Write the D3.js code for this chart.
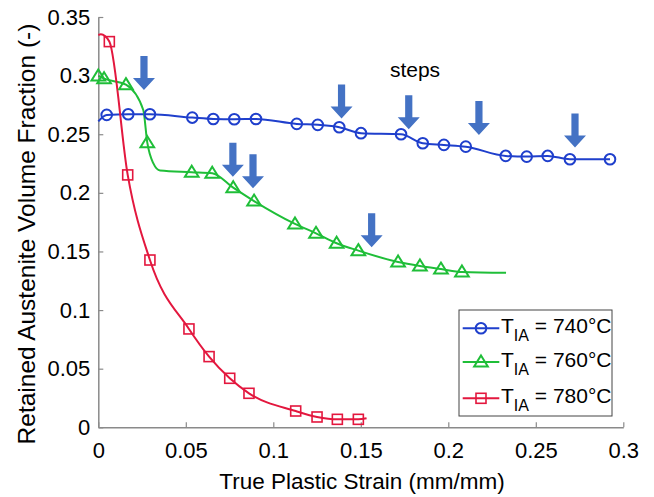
<!DOCTYPE html>
<html>
<head>
<meta charset="utf-8">
<script src="https://cdn.jsdelivr.net/npm/d3@7"></script>
<style>
  html, body { margin: 0; padding: 0; background: #fff; }
  svg { display: block; }
  text { font-family: "Liberation Sans", Arial, sans-serif; fill: #000; }
</style>
</head>
<body>
<svg id="chart" width="654" height="497"></svg>
<script>
// ---- data ----
const xTicks = [0, 0.05, 0.1, 0.15, 0.2, 0.25, 0.3];
const xTickLabels = ["0", "0.05", "0.1", "0.15", "0.2", "0.25", "0.3"];
const yTicks = [0, 0.05, 0.1, 0.15, 0.2, 0.25, 0.3, 0.35];
const yTickLabels = ["0", "0.05", "0.1", "0.15", "0.2", "0.25", "0.3", "0.35"];

const seriesNames = ["740", "760", "780"];

// T_IA = 740°C (markers)
const strain740 = [0.0048, 0.0171, 0.0295, 0.0537, 0.0657, 0.0777, 0.0901, 0.1134, 0.1254, 0.1377, 0.1501, 0.173, 0.1854, 0.1975, 0.21, 0.2328, 0.2448, 0.2568, 0.2695, 0.2924];
const ra740     = [0.2665, 0.267, 0.267, 0.2642, 0.263, 0.2628, 0.263, 0.2588, 0.258, 0.256, 0.2509, 0.25, 0.2423, 0.2409, 0.2394, 0.2315, 0.2309, 0.2315, 0.2287, 0.2287];
// T_IA = 740°C (line)
const lineStrain740 = [0, 0.0048, 0.0171, 0.0295, 0.0537, 0.0657, 0.0777, 0.0901, 0.1134, 0.1254, 0.1377, 0.1501, 0.173, 0.1854, 0.1975, 0.21, 0.2328, 0.2448, 0.2568, 0.2695, 0.2924];
const lineRa740     = [0.261, 0.2665, 0.267, 0.267, 0.2642, 0.263, 0.2628, 0.263, 0.2588, 0.258, 0.256, 0.2509, 0.25, 0.2423, 0.2409, 0.2394, 0.2315, 0.2309, 0.2315, 0.2287, 0.2287];

// T_IA = 760°C (markers)
const strain760 = [0.0, 0.0033, 0.0158, 0.028, 0.0534, 0.0651, 0.0771, 0.089, 0.1124, 0.1244, 0.1362, 0.1486, 0.1713, 0.1838, 0.1958, 0.2078];
const ra760     = [0.2997, 0.2974, 0.2923, 0.2428, 0.2176, 0.2167, 0.2044, 0.193, 0.1735, 0.1655, 0.157, 0.1507, 0.141, 0.1376, 0.135, 0.1325];
// T_IA = 760°C (line)
const lineStrain760 = [0.0, 0.0033, 0.0158, 0.0257, 0.028, 0.0314, 0.0353, 0.0534, 0.0651, 0.0771, 0.089, 0.1124, 0.1244, 0.1362, 0.1486, 0.1713, 0.1838, 0.1958, 0.2078, 0.233];
const lineRa760     = [0.2997, 0.2974, 0.2923, 0.2707, 0.2428, 0.2253, 0.219, 0.2176, 0.2167, 0.2044, 0.193, 0.1735, 0.1655, 0.157, 0.1507, 0.141, 0.1376, 0.135, 0.1325, 0.1318];

// T_IA = 780°C (markers)
const strain780 = [0.0063, 0.0168, 0.0295, 0.0518, 0.0633, 0.0751, 0.0861, 0.1128, 0.125, 0.1366, 0.1486];
const ra780     = [0.329, 0.2153, 0.1427, 0.0839, 0.0603, 0.0418, 0.029, 0.0139, 0.0088, 0.0068, 0.0068];
// T_IA = 780°C (line)
const lineStrain780 = [0, 0.0015, 0.0063, 0.0168, 0.0295, 0.0518, 0.0633, 0.0751, 0.0861, 0.1128, 0.125, 0.1366, 0.1486, 0.1533];
const lineRa780     = [0.3347, 0.3352, 0.329, 0.2153, 0.1427, 0.0839, 0.0603, 0.0418, 0.029, 0.0139, 0.0088, 0.0068, 0.0068, 0.0077];

// "steps" arrows: tip positions in data units
const arrowTipX = [0.0261, 0.139, 0.1774, 0.2175, 0.2724, 0.0769, 0.0884, 0.1562];
const arrowTipY = [0.2878, 0.2635, 0.2543, 0.2494, 0.2386, 0.2138, 0.2039, 0.1536];

// ---- drawing ----
const svg = d3.select("#chart");
const plotLeft = 98.3, plotRight = 623.3, plotTop = 17, plotBottom = 427.3;

const x = d3.scaleLinear().domain([0, 0.3]).range([plotLeft, plotRight]);
const y = d3.scaleLinear().domain([0, 0.35]).range([plotBottom, plotTop]);

const colors = { "740": "#1f3fcc", "760": "#1fbe38", "780": "#e3173e" };
const axisColor = "#8a8a8a";

// axes
const gx = svg.append("g").attr("transform", `translate(0,${plotBottom})`)
  .call(d3.axisBottom(x).tickValues(xTicks).tickFormat((d, i) => xTickLabels[i])
    .tickSizeInner(-5).tickSizeOuter(0).tickPadding(15));
const gy = svg.append("g").attr("transform", `translate(${plotLeft},0)`)
  .call(d3.axisLeft(y).tickValues(yTicks).tickFormat((d, i) => yTickLabels[i])
    .tickSizeInner(-5).tickSizeOuter(0).tickPadding(8));
[gx, gy].forEach(g => {
  g.select(".domain").attr("stroke", axisColor).attr("stroke-width", 1.5);
  g.selectAll(".tick line").attr("stroke", axisColor).attr("stroke-width", 1.2);
  g.selectAll(".tick text").attr("font-size", 22).attr("font-family", "Liberation Sans, Arial, sans-serif").attr("fill", "#000");
});

// axis titles
svg.append("text").attr("x", 362).attr("y", 489).attr("text-anchor", "middle")
  .attr("font-size", 22.5).text("True Plastic Strain (mm/mm)");
svg.append("text").attr("transform", `translate(35,234) rotate(-90)`).attr("text-anchor", "middle")
  .attr("font-size", 24.5).text("Retained Austenite Volume Fraction (-)");

const lineGen = d3.line().x(d => x(d[0])).y(d => y(d[1])).curve(d3.curveMonotoneX);

const lines = {
  "740": d3.zip(lineStrain740, lineRa740),
  "760": d3.zip(lineStrain760, lineRa760),
  "780": d3.zip(lineStrain780, lineRa780)
};
const markers = {
  "740": d3.zip(strain740, ra740),
  "760": d3.zip(strain760, ra760),
  "780": d3.zip(strain780, ra780)
};

function drawMarker(g, name, cx, cy) {
  const c = colors[name];
  if (name === "740") {
    g.append("circle").attr("cx", cx).attr("cy", cy).attr("r", 5.3)
      .attr("fill", "none").attr("stroke", c).attr("stroke-width", 2);
  } else if (name === "760") {
    const s = 6.5;
    g.append("path").attr("d", `M${cx},${cy - s}L${cx + s * 1.05},${cy + s * 0.7}L${cx - s * 1.05},${cy + s * 0.7}Z`)
      .attr("fill", "none").attr("stroke", c).attr("stroke-width", 2);
  } else {
    g.append("rect").attr("x", cx - 5).attr("y", cy - 5).attr("width", 10).attr("height", 10)
      .attr("fill", "none").attr("stroke", c).attr("stroke-width", 1.6);
  }
}

const plot = svg.append("g");
seriesNames.forEach(name => {
  plot.append("path").datum(lines[name]).attr("d", lineGen)
    .attr("fill", "none").attr("stroke", colors[name]).attr("stroke-width", 2);
});
seriesNames.forEach(name => {
  const g = plot.append("g");
  markers[name].forEach(d => drawMarker(g, name, x(d[0]), y(d[1])));
});

// arrows
const arrowColor = "#4472c4";
d3.zip(arrowTipX, arrowTipY).forEach(([ax, ay]) => {
  const tx = x(ax), ty = y(ay);
  const len = 34, head = 12, hw = 11, sw = 3.6;
  const p = `M${tx},${ty}L${tx - hw},${ty - head}L${tx - sw},${ty - head}L${tx - sw},${ty - len}` +
            `L${tx + sw},${ty - len}L${tx + sw},${ty - head}L${tx + hw},${ty - head}Z`;
  svg.append("path").attr("d", p).attr("fill", arrowColor);
});

svg.append("text").attr("x", 415).attr("y", 77).attr("text-anchor", "middle")
  .attr("font-family", "Open Sans, sans-serif").attr("font-size", 21).text("steps");

// legend
const lg = svg.append("g");
lg.append("rect").attr("x", 459).attr("y", 310).attr("width", 153).attr("height", 106)
  .attr("fill", "#fff").attr("stroke", "#444").attr("stroke-width", 1);
const legendRows = [328.3, 362, 398.3];
seriesNames.forEach((name, i) => {
  const ry = legendRows[i];
  lg.append("line").attr("x1", 462.7).attr("x2", 499.3).attr("y1", ry).attr("y2", ry)
    .attr("stroke", colors[name]).attr("stroke-width", 2);
  drawMarker(lg, name, 481, ry);
  const t = lg.append("text").attr("x", 501).attr("y", ry + 5).attr("font-size", 21);
  t.append("tspan").text("T");
  t.append("tspan").attr("font-size", 16).attr("dy", 8).text("IA");
  t.append("tspan").attr("dy", -8).text(` = ${name}°C`);
});
</script>
</body>
</html>
